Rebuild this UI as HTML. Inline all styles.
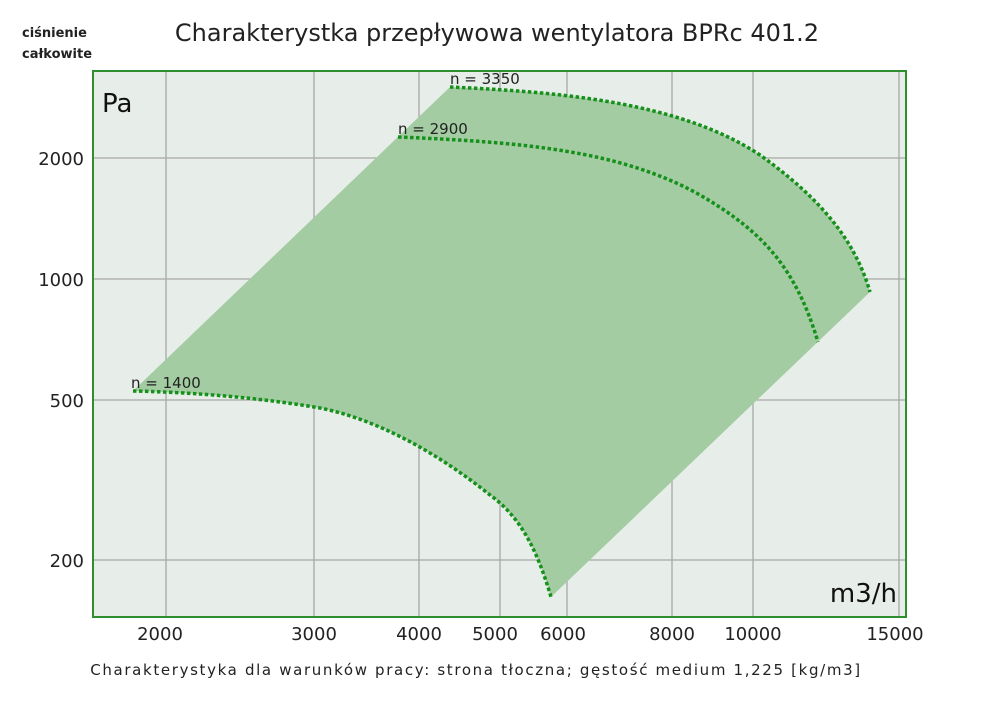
<!DOCTYPE html>
<html><head><meta charset="utf-8"><style>
body{margin:0;background:#fff;width:1000px;height:706px;overflow:hidden;font-family:"DejaVu Sans","Liberation Sans",sans-serif;}
</style></head><body>
<svg width="1000" height="706" xmlns="http://www.w3.org/2000/svg" font-family="DejaVu Sans, Liberation Sans, sans-serif">
<rect x="93" y="71" width="813" height="546" fill="#e7ede8"/>
<g stroke="#a8a8a8" stroke-width="1.3">
<line x1="166" y1="71" x2="166" y2="617"/><line x1="314" y1="71" x2="314" y2="617"/>
<line x1="419" y1="71" x2="419" y2="617"/><line x1="500" y1="71" x2="500" y2="617"/>
<line x1="567" y1="71" x2="567" y2="617"/><line x1="672" y1="71" x2="672" y2="617"/>
<line x1="753" y1="71" x2="753" y2="617"/><line x1="899" y1="71" x2="899" y2="617"/>
<line x1="93" y1="158" x2="906" y2="158"/><line x1="93" y1="279" x2="906" y2="279"/>
<line x1="93" y1="400" x2="906" y2="400"/><line x1="93" y1="560" x2="906" y2="560"/>
</g>
<path d="M133,391 L450,87 C560,92 680,102 760,155 C820,198 855,240 870,292 L551,597 C540,560 525,520 490,495 C440,455 380,420 320,408 C250,396 180,392 133,391 Z" fill="#a3cca3"/>
<g fill="none" stroke="#15901a" stroke-width="3.5" stroke-dasharray="3.5,2.5">
<path d="M450,87 C560,92 680,102 760,155 C820,198 855,240 870,292"/>
<path d="M398,137 C520,142 620,150 700,195 C760,230 795,265 818,342"/>
<path d="M133,391 C180,392 250,396 320,408 C380,420 440,455 490,495 C525,520 540,560 551,597"/>
</g>
<rect x="93" y="71" width="813" height="546" fill="none" stroke="#2f8f2f" stroke-width="2"/>
<g font-size="15" fill="#222">
<text x="450" y="84">n = 3350</text>
<text x="398" y="134">n = 2900</text>
<text x="131" y="388">n = 1400</text>
</g>
<text x="102" y="112" font-size="26" fill="#111">Pa</text>
<text x="897" y="602" font-size="26" fill="#111" text-anchor="end">m3/h</text>
<g font-size="18" fill="#222" text-anchor="end">
<text x="84" y="165">2000</text><text x="84" y="286">1000</text>
<text x="84" y="407">500</text><text x="84" y="567">200</text>
</g>
<g font-size="18" fill="#222" text-anchor="middle">
<text x="160" y="640">2000</text><text x="314" y="640">3000</text><text x="419" y="640">4000</text>
<text x="495" y="640">5000</text><text x="563" y="640">6000</text><text x="672" y="640">8000</text>
<text x="753" y="640">10000</text><text x="895" y="640">15000</text>
</g>
<text x="497" y="41" font-size="24" fill="#222" text-anchor="middle">Charakterystka przepływowa wentylatora BPRc 401.2</text>
<text x="22" y="37" font-size="13" font-weight="bold" fill="#222">ciśnienie</text>
<text x="22" y="58" font-size="13" font-weight="bold" fill="#222">całkowite</text>
<text x="476" y="675" font-size="15" fill="#222" text-anchor="middle" letter-spacing="1.65">Charakterystyka dla warunków pracy: strona tłoczna; gęstość medium 1,225 [kg/m3]</text>
</svg>
</body></html>
